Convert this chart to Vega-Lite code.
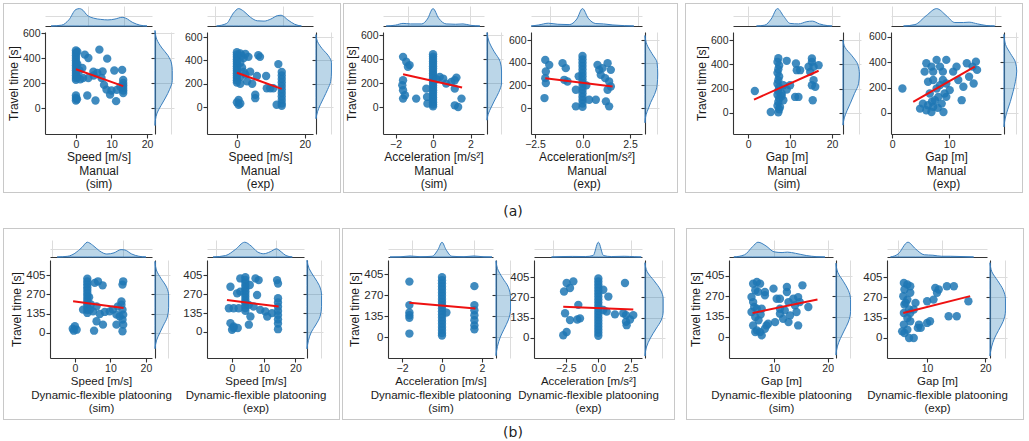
{
"$schema": "https://vega.github.io/schema/vega-lite/v6.json",
"padding": {"left": 3, "top": 3, "right": 0, "bottom": 0},
"background": "white",
"config": {"font": "Liberation Sans", "view": {"stroke": null},
 "axis": {"labelFont": "Liberation Sans", "titleFont": "Liberation Sans", "labelColor": "#2a2a2a", "titleColor": "#1a1a1a", "domainColor": "#333333", "tickColor": "#333333", "domainWidth": 1.1, "tickWidth": 1.1, "tickSize": 4, "labelPadding": 1, "titlePadding": 2, "titleFontWeight": "normal", "titleFontSize": 12, "labelFontSize": 10.5, "labelFlush": false, "labelOverlap": false, "grid": false, "gridColor": "#dcdcdc", "gridWidth": 1, "titleLineHeight": 13.5}},
"datasets": {
"pts": [
{"p":1,"x":0,"y":460},{"p":1,"x":0,"y":440},{"p":1,"x":0,"y":420},{"p":1,"x":0,"y":400},{"p":1,"x":0,"y":380},{"p":1,"x":0,"y":360},{"p":1,"x":0,"y":340},{"p":1,"x":0,"y":320},{"p":1,"x":0,"y":300},{"p":1,"x":0,"y":280},{"p":1,"x":0,"y":260},{"p":1,"x":0,"y":240},{"p":1,"x":0,"y":225},{"p":1,"x":0.4,"y":450},{"p":1,"x":0.4,"y":350},{"p":1,"x":0.4,"y":250},{"p":1,"x":0,"y":100},{"p":1,"x":0,"y":80},{"p":1,"x":0,"y":60},{"p":1,"x":0.3,"y":70},{"p":1,"x":2.5,"y":427},{"p":1,"x":3.5,"y":400},{"p":1,"x":1.8,"y":320},{"p":1,"x":2,"y":240},{"p":1,"x":3.5,"y":240},{"p":1,"x":4.9,"y":290},{"p":1,"x":3.2,"y":100},{"p":1,"x":5.5,"y":60},{"p":1,"x":6.6,"y":467},{"p":1,"x":7.5,"y":293},{"p":1,"x":7.2,"y":240},{"p":1,"x":7.9,"y":185},{"p":1,"x":8.8,"y":395},{"p":1,"x":8.6,"y":147},{"p":1,"x":9.6,"y":107},{"p":1,"x":10.8,"y":300},{"p":1,"x":11.3,"y":55},{"p":1,"x":11.5,"y":145},{"p":1,"x":13,"y":305},{"p":1,"x":13.3,"y":225},{"p":1,"x":13.3,"y":200},{"p":1,"x":13.3,"y":180},{"p":1,"x":13.3,"y":160},{"p":1,"x":13.3,"y":140},{"p":1,"x":13.3,"y":120},{"p":1,"x":12.5,"y":170},{"p":1,"x":10,"y":140},{"p":1,"x":6,"y":280},{"p":1,"x":5,"y":260},{"p":1,"x":1,"y":300},{"p":1,"x":1.2,"y":230},
{"p":2,"x":0,"y":470},{"p":2,"x":0,"y":450},{"p":2,"x":0,"y":430},{"p":2,"x":0,"y":410},{"p":2,"x":0,"y":390},{"p":2,"x":0,"y":370},{"p":2,"x":0,"y":350},{"p":2,"x":0,"y":330},{"p":2,"x":0,"y":310},{"p":2,"x":0,"y":290},{"p":2,"x":0,"y":270},{"p":2,"x":0,"y":250},{"p":2,"x":0,"y":230},{"p":2,"x":0,"y":210},{"p":2,"x":1,"y":460},{"p":2,"x":1.5,"y":440},{"p":2,"x":2,"y":420},{"p":2,"x":2.5,"y":455},{"p":2,"x":1,"y":380},{"p":2,"x":1.5,"y":340},{"p":2,"x":2,"y":300},{"p":2,"x":1,"y":260},{"p":2,"x":2.5,"y":280},{"p":2,"x":1,"y":200},{"p":2,"x":0.5,"y":60},{"p":2,"x":0,"y":40},{"p":2,"x":0.5,"y":20},{"p":2,"x":1,"y":30},{"p":2,"x":3.9,"y":303},{"p":2,"x":5.9,"y":266},{"p":2,"x":5.4,"y":105},{"p":2,"x":5.4,"y":76},{"p":2,"x":3.4,"y":430},{"p":2,"x":6.3,"y":444},{"p":2,"x":6.8,"y":430},{"p":2,"x":8.6,"y":266},{"p":2,"x":8.8,"y":161},{"p":2,"x":10.7,"y":161},{"p":2,"x":9.8,"y":160},{"p":2,"x":12.2,"y":368},{"p":2,"x":13.2,"y":300},{"p":2,"x":13.2,"y":270},{"p":2,"x":13.2,"y":240},{"p":2,"x":13.2,"y":210},{"p":2,"x":13.2,"y":180},{"p":2,"x":13.2,"y":150},{"p":2,"x":13.2,"y":120},{"p":2,"x":13.2,"y":90},{"p":2,"x":13.2,"y":60},{"p":2,"x":13.2,"y":30},{"p":2,"x":13.2,"y":10},{"p":2,"x":11.7,"y":20},{"p":2,"x":4.5,"y":200},{"p":2,"x":3,"y":220},
{"p":3,"x":-1.6,"y":418},{"p":3,"x":-1.43,"y":377},{"p":3,"x":-1.34,"y":335},{"p":3,"x":-1.25,"y":349},{"p":3,"x":-1.6,"y":223},{"p":3,"x":-1.64,"y":181},{"p":3,"x":-1.6,"y":140},{"p":3,"x":-1.6,"y":70},{"p":3,"x":-1.5,"y":98},{"p":3,"x":-0.9,"y":70},{"p":3,"x":0,"y":440},{"p":3,"x":0,"y":420},{"p":3,"x":0,"y":400},{"p":3,"x":0,"y":380},{"p":3,"x":0,"y":360},{"p":3,"x":0,"y":340},{"p":3,"x":0,"y":320},{"p":3,"x":0,"y":300},{"p":3,"x":0,"y":280},{"p":3,"x":0,"y":260},{"p":3,"x":0,"y":240},{"p":3,"x":0,"y":220},{"p":3,"x":0,"y":200},{"p":3,"x":0,"y":180},{"p":3,"x":0,"y":160},{"p":3,"x":0,"y":140},{"p":3,"x":0,"y":120},{"p":3,"x":0,"y":100},{"p":3,"x":0,"y":80},{"p":3,"x":0,"y":60},{"p":3,"x":0,"y":40},{"p":3,"x":0,"y":20},{"p":3,"x":0,"y":5},{"p":3,"x":-0.36,"y":153},{"p":3,"x":-0.32,"y":84},{"p":3,"x":-0.3,"y":28},{"p":3,"x":0.36,"y":251},{"p":3,"x":0.54,"y":237},{"p":3,"x":0.98,"y":209},{"p":3,"x":1.16,"y":223},{"p":3,"x":1.25,"y":245},{"p":3,"x":1.16,"y":153},{"p":3,"x":1.16,"y":14},{"p":3,"x":1.34,"y":0},{"p":3,"x":1.52,"y":70},{"p":3,"x":0.7,"y":195},{"p":3,"x":0.2,"y":230},
{"p":4,"x":-1.96,"y":425},{"p":4,"x":-1.75,"y":381},{"p":4,"x":-1.93,"y":322},{"p":4,"x":-1.96,"y":264},{"p":4,"x":-1.93,"y":220},{"p":4,"x":-2.0,"y":88},{"p":4,"x":-1.05,"y":396},{"p":4,"x":-0.88,"y":352},{"p":4,"x":-0.96,"y":249},{"p":4,"x":-0.79,"y":234},{"p":4,"x":0,"y":460},{"p":4,"x":0,"y":430},{"p":4,"x":0,"y":400},{"p":4,"x":0,"y":370},{"p":4,"x":0,"y":340},{"p":4,"x":0,"y":310},{"p":4,"x":0,"y":280},{"p":4,"x":0,"y":250},{"p":4,"x":0,"y":220},{"p":4,"x":0,"y":190},{"p":4,"x":0,"y":160},{"p":4,"x":0,"y":130},{"p":4,"x":0,"y":100},{"p":4,"x":0,"y":70},{"p":4,"x":0,"y":40},{"p":4,"x":0,"y":10},{"p":4,"x":-0.35,"y":161},{"p":4,"x":0.35,"y":73},{"p":4,"x":-0.35,"y":15},{"p":4,"x":0.7,"y":73},{"p":4,"x":1.23,"y":59},{"p":4,"x":1.4,"y":15},{"p":4,"x":0.79,"y":381},{"p":4,"x":0.88,"y":337},{"p":4,"x":1.05,"y":352},{"p":4,"x":0.96,"y":293},{"p":4,"x":1.32,"y":396},{"p":4,"x":1.49,"y":337},{"p":4,"x":1.19,"y":264},{"p":4,"x":1.4,"y":234},{"p":4,"x":1.32,"y":161},{"p":4,"x":1.49,"y":190},{"p":4,"x":0.2,"y":200},{"p":4,"x":-0.2,"y":280},
{"p":5,"x":1.6,"y":181},{"p":5,"x":7.2,"y":450},{"p":5,"x":7.0,"y":420},{"p":5,"x":7.4,"y":390},{"p":5,"x":7.2,"y":360},{"p":5,"x":7.0,"y":330},{"p":5,"x":7.4,"y":300},{"p":5,"x":7.2,"y":270},{"p":5,"x":7.0,"y":240},{"p":5,"x":7.4,"y":210},{"p":5,"x":7.2,"y":180},{"p":5,"x":7.0,"y":150},{"p":5,"x":7.4,"y":120},{"p":5,"x":7.2,"y":90},{"p":5,"x":7.0,"y":60},{"p":5,"x":7.4,"y":30},{"p":5,"x":7.2,"y":5},{"p":5,"x":5.4,"y":8},{"p":5,"x":7.6,"y":50},{"p":5,"x":8.4,"y":105},{"p":5,"x":9.2,"y":193},{"p":5,"x":9.2,"y":429},{"p":5,"x":11.2,"y":132},{"p":5,"x":11.6,"y":352},{"p":5,"x":11.4,"y":407},{"p":5,"x":12,"y":132},{"p":5,"x":12.4,"y":352},{"p":5,"x":14.4,"y":380},{"p":5,"x":14.8,"y":338},{"p":5,"x":15.2,"y":448},{"p":5,"x":15.6,"y":270},{"p":5,"x":15.2,"y":228},{"p":5,"x":16,"y":215},{"p":5,"x":16.8,"y":393},{"p":5,"x":15.6,"y":380},{"p":5,"x":15.4,"y":105},{"p":5,"x":15.2,"y":420},{"p":5,"x":8.4,"y":228},{"p":5,"x":10,"y":228},{"p":5,"x":8,"y":140},{"p":5,"x":8,"y":160},
{"p":6,"x":1.8,"y":193},{"p":6,"x":4.9,"y":34},{"p":6,"x":5.4,"y":74},{"p":6,"x":6,"y":21},{"p":6,"x":6.3,"y":61},{"p":6,"x":6.9,"y":8},{"p":6,"x":7.2,"y":48},{"p":6,"x":7.5,"y":101},{"p":6,"x":8.1,"y":127},{"p":6,"x":7.8,"y":193},{"p":6,"x":8.4,"y":220},{"p":6,"x":8.9,"y":260},{"p":6,"x":9.2,"y":154},{"p":6,"x":8.7,"y":74},{"p":6,"x":9,"y":8},{"p":6,"x":6.6,"y":154},{"p":6,"x":6.3,"y":246},{"p":6,"x":7.2,"y":326},{"p":6,"x":6.9,"y":366},{"p":6,"x":7.8,"y":419},{"p":6,"x":8.4,"y":366},{"p":6,"x":9.5,"y":419},{"p":6,"x":8.9,"y":326},{"p":6,"x":9.5,"y":233},{"p":6,"x":10.1,"y":180},{"p":6,"x":10.7,"y":326},{"p":6,"x":11.3,"y":366},{"p":6,"x":11.6,"y":260},{"p":6,"x":12.5,"y":207},{"p":6,"x":12.2,"y":101},{"p":6,"x":13.5,"y":286},{"p":6,"x":14.1,"y":366},{"p":6,"x":14.7,"y":405},{"p":6,"x":14.3,"y":233},{"p":6,"x":14.9,"y":340},{"p":6,"x":13.1,"y":392},{"p":6,"x":6,"y":392},{"p":6,"x":5.7,"y":326},{"p":6,"x":7.2,"y":260},{"p":6,"x":9.5,"y":127},{"p":6,"x":7,"y":90},{"p":6,"x":8,"y":40},
{"p":7,"x":0,"y":47},{"p":7,"x":-0.6,"y":30},{"p":7,"x":0.5,"y":23},{"p":7,"x":-0.3,"y":16},{"p":7,"x":3.5,"y":380},{"p":7,"x":3.5,"y":360},{"p":7,"x":3.5,"y":340},{"p":7,"x":3.5,"y":320},{"p":7,"x":3.5,"y":300},{"p":7,"x":3.5,"y":280},{"p":7,"x":3.5,"y":260},{"p":7,"x":3.5,"y":240},{"p":7,"x":3.5,"y":220},{"p":7,"x":3.5,"y":200},{"p":7,"x":3.5,"y":180},{"p":7,"x":3.5,"y":160},{"p":7,"x":3.5,"y":140},{"p":7,"x":2.3,"y":163},{"p":7,"x":4.2,"y":163},{"p":7,"x":5.1,"y":151},{"p":7,"x":6.1,"y":186},{"p":7,"x":5.6,"y":350},{"p":7,"x":6.5,"y":361},{"p":7,"x":7.8,"y":333},{"p":7,"x":7,"y":133},{"p":7,"x":6.1,"y":82},{"p":7,"x":7.9,"y":58},{"p":7,"x":5.4,"y":16},{"p":7,"x":8.4,"y":147},{"p":7,"x":9.8,"y":151},{"p":7,"x":10.7,"y":163},{"p":7,"x":11.7,"y":58},{"p":7,"x":11.7,"y":128},{"p":7,"x":12.1,"y":186},{"p":7,"x":13.1,"y":221},{"p":7,"x":13.4,"y":338},{"p":7,"x":13.6,"y":361},{"p":7,"x":13.4,"y":163},{"p":7,"x":13.6,"y":128},{"p":7,"x":13.4,"y":93},{"p":7,"x":13.6,"y":58},{"p":7,"x":13.4,"y":12},{"p":7,"x":13.1,"y":198},{"p":7,"x":12.6,"y":116},{"p":7,"x":4.5,"y":200},{"p":7,"x":4,"y":250},
{"p":8,"x":-0.5,"y":322},{"p":8,"x":-1,"y":169},{"p":8,"x":0.5,"y":169},{"p":8,"x":-0.5,"y":63},{"p":8,"x":0.5,"y":40},{"p":8,"x":0,"y":16},{"p":8,"x":0.5,"y":28},{"p":8,"x":1.8,"y":28},{"p":8,"x":2.1,"y":169},{"p":8,"x":2.6,"y":287},{"p":8,"x":1.6,"y":275},{"p":8,"x":2.6,"y":381},{"p":8,"x":4.2,"y":390},{"p":8,"x":4.2,"y":370},{"p":8,"x":4.2,"y":350},{"p":8,"x":4.2,"y":330},{"p":8,"x":4.2,"y":310},{"p":8,"x":4.2,"y":290},{"p":8,"x":4.2,"y":270},{"p":8,"x":4.2,"y":250},{"p":8,"x":4.2,"y":230},{"p":8,"x":4.2,"y":210},{"p":8,"x":4.2,"y":190},{"p":8,"x":4.2,"y":170},{"p":8,"x":4.2,"y":150},{"p":8,"x":5.6,"y":334},{"p":8,"x":5.3,"y":193},{"p":8,"x":5.8,"y":110},{"p":8,"x":5.3,"y":52},{"p":8,"x":7.4,"y":381},{"p":8,"x":8.4,"y":369},{"p":8,"x":7.9,"y":263},{"p":8,"x":6.8,"y":181},{"p":8,"x":8.9,"y":157},{"p":8,"x":10.5,"y":146},{"p":8,"x":11.1,"y":110},{"p":8,"x":12.6,"y":134},{"p":8,"x":14.2,"y":369},{"p":8,"x":14.5,"y":345},{"p":8,"x":14.5,"y":240},{"p":8,"x":14.5,"y":210},{"p":8,"x":14.5,"y":180},{"p":8,"x":14.5,"y":150},{"p":8,"x":14.5,"y":120},{"p":8,"x":14.5,"y":90},{"p":8,"x":14.5,"y":60},{"p":8,"x":14.5,"y":20},
{"p":9,"x":-1.63,"y":356},{"p":9,"x":-1.63,"y":205},{"p":9,"x":-1.63,"y":157},{"p":9,"x":-1.63,"y":140},{"p":9,"x":-1.63,"y":123},{"p":9,"x":-1.63,"y":22},{"p":9,"x":0,"y":385},{"p":9,"x":0,"y":365},{"p":9,"x":0,"y":345},{"p":9,"x":0,"y":325},{"p":9,"x":0,"y":305},{"p":9,"x":0,"y":285},{"p":9,"x":0,"y":265},{"p":9,"x":0,"y":245},{"p":9,"x":0,"y":225},{"p":9,"x":0,"y":205},{"p":9,"x":0,"y":185},{"p":9,"x":0,"y":165},{"p":9,"x":0,"y":145},{"p":9,"x":0,"y":125},{"p":9,"x":0,"y":105},{"p":9,"x":0,"y":85},{"p":9,"x":0,"y":65},{"p":9,"x":0,"y":45},{"p":9,"x":0,"y":25},{"p":9,"x":0,"y":10},{"p":9,"x":0.22,"y":157},{"p":9,"x":1.62,"y":327},{"p":9,"x":1.62,"y":205},{"p":9,"x":1.62,"y":172},{"p":9,"x":1.62,"y":140},{"p":9,"x":1.62,"y":108},{"p":9,"x":1.62,"y":75},{"p":9,"x":1.62,"y":50},
{"p":10,"x":-2.56,"y":164},{"p":10,"x":-2.64,"y":309},{"p":10,"x":-2.44,"y":365},{"p":10,"x":-2.18,"y":332},{"p":10,"x":-1.92,"y":376},{"p":10,"x":-2.7,"y":18},{"p":10,"x":-2.44,"y":40},{"p":10,"x":-2.18,"y":119},{"p":10,"x":-1.54,"y":220},{"p":10,"x":-1.41,"y":130},{"p":10,"x":-1.62,"y":123},{"p":10,"x":0,"y":395},{"p":10,"x":0,"y":375},{"p":10,"x":0,"y":355},{"p":10,"x":0,"y":335},{"p":10,"x":0,"y":315},{"p":10,"x":0,"y":295},{"p":10,"x":0,"y":275},{"p":10,"x":0,"y":255},{"p":10,"x":0,"y":235},{"p":10,"x":0,"y":215},{"p":10,"x":0,"y":195},{"p":10,"x":0,"y":175},{"p":10,"x":0,"y":155},{"p":10,"x":0,"y":135},{"p":10,"x":0,"y":115},{"p":10,"x":0,"y":95},{"p":10,"x":0,"y":75},{"p":10,"x":0,"y":55},{"p":10,"x":0,"y":35},{"p":10,"x":0,"y":15},{"p":10,"x":0.38,"y":320},{"p":10,"x":0.77,"y":275},{"p":10,"x":0.64,"y":175},{"p":10,"x":0.38,"y":186},{"p":10,"x":1.28,"y":157},{"p":10,"x":1.92,"y":164},{"p":10,"x":2.13,"y":152},{"p":10,"x":2.13,"y":108},{"p":10,"x":2.18,"y":85},{"p":10,"x":2.44,"y":123},{"p":10,"x":2.69,"y":152},{"p":10,"x":2.05,"y":365},
{"p":11,"x":6.1,"y":354},{"p":11,"x":6.8,"y":365},{"p":11,"x":7.4,"y":354},{"p":11,"x":6.5,"y":310},{"p":11,"x":5.8,"y":266},{"p":11,"x":6.1,"y":232},{"p":11,"x":6.8,"y":188},{"p":11,"x":5.8,"y":166},{"p":11,"x":6.5,"y":133},{"p":11,"x":7.1,"y":111},{"p":11,"x":6.1,"y":77},{"p":11,"x":6.8,"y":44},{"p":11,"x":7.4,"y":33},{"p":11,"x":7.7,"y":11},{"p":11,"x":6.5,"y":33},{"p":11,"x":8.3,"y":55},{"p":11,"x":8.6,"y":77},{"p":11,"x":7.7,"y":188},{"p":11,"x":8.3,"y":299},{"p":11,"x":8.3,"y":277},{"p":11,"x":8.9,"y":88},{"p":11,"x":9.9,"y":321},{"p":11,"x":10.5,"y":254},{"p":11,"x":11.1,"y":254},{"p":11,"x":11.1,"y":155},{"p":11,"x":11.7,"y":121},{"p":11,"x":12,"y":177},{"p":11,"x":12.4,"y":332},{"p":11,"x":12.4,"y":299},{"p":11,"x":12.7,"y":232},{"p":11,"x":13,"y":144},{"p":11,"x":12.7,"y":99},{"p":11,"x":13.6,"y":254},{"p":11,"x":13.9,"y":210},{"p":11,"x":14.5,"y":265},{"p":11,"x":14.2,"y":166},{"p":11,"x":14.5,"y":77},{"p":11,"x":15.3,"y":343},{"p":11,"x":14.8,"y":232},{"p":11,"x":16.4,"y":199},{"p":11,"x":11.1,"y":188},{"p":11,"x":10.2,"y":99},{"p":11,"x":7,"y":300},{"p":11,"x":6.3,"y":200},{"p":11,"x":7.5,"y":150},
{"p":12,"x":6,"y":366},{"p":12,"x":6.6,"y":355},{"p":12,"x":7.1,"y":344},{"p":12,"x":6.1,"y":322},{"p":12,"x":5.9,"y":277},{"p":12,"x":6.6,"y":255},{"p":12,"x":6.1,"y":222},{"p":12,"x":6.9,"y":189},{"p":12,"x":6,"y":166},{"p":12,"x":6.6,"y":133},{"p":12,"x":7.1,"y":111},{"p":12,"x":6,"y":89},{"p":12,"x":6.6,"y":55},{"p":12,"x":6.1,"y":33},{"p":12,"x":6.9,"y":0},{"p":12,"x":7.1,"y":300},{"p":12,"x":5.7,"y":44},{"p":12,"x":7.7,"y":0},{"p":12,"x":8,"y":233},{"p":12,"x":8.6,"y":89},{"p":12,"x":8.9,"y":67},{"p":12,"x":10,"y":100},{"p":12,"x":10.5,"y":111},{"p":12,"x":10,"y":244},{"p":12,"x":11.1,"y":255},{"p":12,"x":11.4,"y":333},{"p":12,"x":11.7,"y":300},{"p":12,"x":12,"y":322},{"p":12,"x":13.4,"y":344},{"p":12,"x":14.6,"y":344},{"p":12,"x":13.7,"y":144},{"p":12,"x":15.1,"y":144},{"p":12,"x":17.1,"y":244},{"p":12,"x":7.7,"y":189},{"p":12,"x":8.4,"y":67},{"p":12,"x":6.3,"y":233},{"p":12,"x":7.1,"y":166}
],
"reg": [
{"p":1,"x":0,"y":310},{"p":1,"x":13.3,"y":175},
{"p":2,"x":0,"y":294},{"p":2,"x":13.2,"y":156},
{"p":3,"x":-1.6,"y":273},{"p":3,"x":1.55,"y":162},
{"p":4,"x":-1.96,"y":262},{"p":4,"x":1.58,"y":190},
{"p":5,"x":1.4,"y":110},{"p":5,"x":16.8,"y":347},
{"p":6,"x":3.7,"y":87},{"p":6,"x":14.5,"y":366},
{"p":7,"x":-0.5,"y":221},{"p":7,"x":13.7,"y":175},
{"p":8,"x":-1.6,"y":228},{"p":8,"x":14.7,"y":181},
{"p":9,"x":-1.63,"y":220},{"p":9,"x":1.67,"y":183},
{"p":10,"x":-2.7,"y":208},{"p":10,"x":2.69,"y":190},
{"p":11,"x":6,"y":159},{"p":11,"x":18.1,"y":249},
{"p":12,"x":5.9,"y":166},{"p":12,"x":17.4,"y":278}
],
"tm": [
{"p":1,"v":-7,"d":0},{"p":1,"v":-4,"d":0.05},{"p":1,"v":-2,"d":0.35},{"p":1,"v":0,"d":0.95},{"p":1,"v":1,"d":1.0},{"p":1,"v":2,"d":0.9},{"p":1,"v":3,"d":0.65},{"p":1,"v":5,"d":0.45},{"p":1,"v":7,"d":0.38},{"p":1,"v":9,"d":0.35},{"p":1,"v":11,"d":0.4},{"p":1,"v":13,"d":0.5},{"p":1,"v":14,"d":0.45},{"p":1,"v":16,"d":0.2},{"p":1,"v":18,"d":0.05},{"p":1,"v":20,"d":0},
{"p":2,"v":-6,"d":0},{"p":2,"v":-3,"d":0.15},{"p":2,"v":-1,"d":0.75},{"p":2,"v":0.5,"d":1.0},{"p":2,"v":2,"d":0.85},{"p":2,"v":4,"d":0.5},{"p":2,"v":6,"d":0.3},{"p":2,"v":8,"d":0.28},{"p":2,"v":10,"d":0.4},{"p":2,"v":12,"d":0.6},{"p":2,"v":13,"d":0.62},{"p":2,"v":15,"d":0.35},{"p":2,"v":17,"d":0.1},{"p":2,"v":19,"d":0},
{"p":3,"v":-2.5,"d":0},{"p":3,"v":-2,"d":0.05},{"p":3,"v":-1.6,"d":0.15},{"p":3,"v":-1.2,"d":0.12},{"p":3,"v":-0.6,"d":0.12},{"p":3,"v":-0.3,"d":0.4},{"p":3,"v":0,"d":1.0},{"p":3,"v":0.3,"d":0.45},{"p":3,"v":0.7,"d":0.12},{"p":3,"v":1.2,"d":0.1},{"p":3,"v":1.6,"d":0.12},{"p":3,"v":2,"d":0.04},{"p":3,"v":2.5,"d":0},
{"p":4,"v":-2.7,"d":0},{"p":4,"v":-2.3,"d":0.06},{"p":4,"v":-1.8,"d":0.16},{"p":4,"v":-1.3,"d":0.1},{"p":4,"v":-0.7,"d":0.08},{"p":4,"v":-0.3,"d":0.4},{"p":4,"v":0,"d":1.0},{"p":4,"v":0.3,"d":0.45},{"p":4,"v":0.7,"d":0.14},{"p":4,"v":1.1,"d":0.12},{"p":4,"v":1.6,"d":0.06},{"p":4,"v":2.2,"d":0.02},{"p":4,"v":2.7,"d":0},
{"p":5,"v":2,"d":0},{"p":5,"v":4,"d":0.05},{"p":5,"v":5.5,"d":0.4},{"p":5,"v":7,"d":1.0},{"p":5,"v":8.5,"d":0.55},{"p":5,"v":10,"d":0.15},{"p":5,"v":12,"d":0.12},{"p":5,"v":14,"d":0.25},{"p":5,"v":15.3,"d":0.28},{"p":5,"v":17,"d":0.12},{"p":5,"v":19,"d":0.02},{"p":5,"v":20,"d":0},
{"p":6,"v":2,"d":0},{"p":6,"v":4,"d":0.08},{"p":6,"v":6,"d":0.6},{"p":6,"v":7.8,"d":1.0},{"p":6,"v":9.5,"d":0.6},{"p":6,"v":11,"d":0.2},{"p":6,"v":12.5,"d":0.2},{"p":6,"v":13.5,"d":0.22},{"p":6,"v":15,"d":0.12},{"p":6,"v":16.5,"d":0.03},{"p":6,"v":18,"d":0},
{"p":7,"v":-5,"d":0},{"p":7,"v":-2,"d":0.05},{"p":7,"v":0,"d":0.25},{"p":7,"v":2,"d":0.65},{"p":7,"v":3.5,"d":1.0},{"p":7,"v":5,"d":0.8},{"p":7,"v":7,"d":0.4},{"p":7,"v":9,"d":0.2},{"p":7,"v":11,"d":0.28},{"p":7,"v":13,"d":0.5},{"p":7,"v":14,"d":0.48},{"p":7,"v":16,"d":0.2},{"p":7,"v":18,"d":0.05},{"p":7,"v":20,"d":0},
{"p":8,"v":-6,"d":0},{"p":8,"v":-2,"d":0.1},{"p":8,"v":1,"d":0.5},{"p":8,"v":4,"d":1.0},{"p":8,"v":6,"d":0.75},{"p":8,"v":8,"d":0.35},{"p":8,"v":10,"d":0.22},{"p":8,"v":12,"d":0.35},{"p":8,"v":14,"d":0.55},{"p":8,"v":15.5,"d":0.35},{"p":8,"v":17,"d":0.1},{"p":8,"v":19,"d":0},
{"p":9,"v":-2.6,"d":0},{"p":9,"v":-2.1,"d":0.01},{"p":9,"v":-1.6,"d":0.07},{"p":9,"v":-1.1,"d":0.02},{"p":9,"v":-0.5,"d":0.05},{"p":9,"v":-0.2,"d":0.5},{"p":9,"v":0,"d":1.0},{"p":9,"v":0.2,"d":0.5},{"p":9,"v":0.5,"d":0.05},{"p":9,"v":1.1,"d":0.02},{"p":9,"v":1.6,"d":0.07},{"p":9,"v":2.1,"d":0.01},{"p":9,"v":2.5,"d":0},
{"p":10,"v":-3.6,"d":0},{"p":10,"v":-2.8,"d":0.03},{"p":10,"v":-2,"d":0.04},{"p":10,"v":-1,"d":0.03},{"p":10,"v":-0.4,"d":0.1},{"p":10,"v":0,"d":1.0},{"p":10,"v":0.4,"d":0.1},{"p":10,"v":1,"d":0.03},{"p":10,"v":2,"d":0.05},{"p":10,"v":2.8,"d":0.02},{"p":10,"v":3.3,"d":0},
{"p":11,"v":2.5,"d":0},{"p":11,"v":4.5,"d":0.15},{"p":11,"v":6,"d":0.7},{"p":11,"v":7,"d":1.0},{"p":11,"v":8.5,"d":0.75},{"p":11,"v":10,"d":0.35},{"p":11,"v":11.5,"d":0.3},{"p":11,"v":12.5,"d":0.33},{"p":11,"v":14,"d":0.25},{"p":11,"v":16,"d":0.1},{"p":11,"v":18,"d":0.02},{"p":11,"v":19.5,"d":0},
{"p":12,"v":3.7,"d":0},{"p":12,"v":5,"d":0.2},{"p":12,"v":6.7,"d":1.0},{"p":12,"v":8,"d":0.55},{"p":12,"v":9.5,"d":0.15},{"p":12,"v":11,"d":0.12},{"p":12,"v":12.5,"d":0.05},{"p":12,"v":14,"d":0.05},{"p":12,"v":16,"d":0.03},{"p":12,"v":18,"d":0}
],
"rm": [
{"p":1,"v":-140,"d":0},{"p":1,"v":-100,"d":0.02},{"p":1,"v":-40,"d":0.12},{"p":1,"v":20,"d":0.35},{"p":1,"v":80,"d":0.6},{"p":1,"v":150,"d":0.85},{"p":1,"v":220,"d":1.0},{"p":1,"v":300,"d":1.0},{"p":1,"v":360,"d":0.95},{"p":1,"v":420,"d":0.75},{"p":1,"v":480,"d":0.4},{"p":1,"v":550,"d":0.1},{"p":1,"v":620,"d":0},
{"p":2,"v":-100,"d":0},{"p":2,"v":-40,"d":0.1},{"p":2,"v":20,"d":0.28},{"p":2,"v":80,"d":0.5},{"p":2,"v":150,"d":0.75},{"p":2,"v":220,"d":0.95},{"p":2,"v":300,"d":1.0},{"p":2,"v":380,"d":1.0},{"p":2,"v":440,"d":0.8},{"p":2,"v":500,"d":0.4},{"p":2,"v":560,"d":0.1},{"p":2,"v":620,"d":0},
{"p":3,"v":-110,"d":0},{"p":3,"v":-60,"d":0.08},{"p":3,"v":0,"d":0.3},{"p":3,"v":50,"d":0.5},{"p":3,"v":120,"d":0.8},{"p":3,"v":200,"d":1.0},{"p":3,"v":300,"d":1.0},{"p":3,"v":380,"d":0.9},{"p":3,"v":460,"d":0.5},{"p":3,"v":540,"d":0.15},{"p":3,"v":620,"d":0},
{"p":4,"v":-130,"d":0},{"p":4,"v":-60,"d":0.08},{"p":4,"v":0,"d":0.28},{"p":4,"v":50,"d":0.45},{"p":4,"v":120,"d":0.75},{"p":4,"v":200,"d":0.95},{"p":4,"v":300,"d":1.0},{"p":4,"v":400,"d":0.95},{"p":4,"v":480,"d":0.55},{"p":4,"v":560,"d":0.15},{"p":4,"v":640,"d":0},
{"p":5,"v":-100,"d":0},{"p":5,"v":-40,"d":0.08},{"p":5,"v":20,"d":0.25},{"p":5,"v":80,"d":0.45},{"p":5,"v":160,"d":0.7},{"p":5,"v":240,"d":0.95},{"p":5,"v":320,"d":1.0},{"p":5,"v":400,"d":0.9},{"p":5,"v":470,"d":0.55},{"p":5,"v":540,"d":0.12},{"p":5,"v":600,"d":0},
{"p":6,"v":-110,"d":0},{"p":6,"v":-40,"d":0.1},{"p":6,"v":30,"d":0.3},{"p":6,"v":90,"d":0.5},{"p":6,"v":170,"d":0.72},{"p":6,"v":250,"d":0.9},{"p":6,"v":330,"d":1.0},{"p":6,"v":400,"d":0.9},{"p":6,"v":470,"d":0.5},{"p":6,"v":540,"d":0.12},{"p":6,"v":620,"d":0},
{"p":7,"v":-110,"d":0},{"p":7,"v":-50,"d":0.12},{"p":7,"v":0,"d":0.35},{"p":7,"v":50,"d":0.6},{"p":7,"v":110,"d":0.9},{"p":7,"v":180,"d":1.0},{"p":7,"v":260,"d":1.0},{"p":7,"v":320,"d":0.85},{"p":7,"v":380,"d":0.45},{"p":7,"v":440,"d":0.1},{"p":7,"v":500,"d":0},
{"p":8,"v":-120,"d":0},{"p":8,"v":-60,"d":0.1},{"p":8,"v":0,"d":0.3},{"p":8,"v":50,"d":0.6},{"p":8,"v":110,"d":0.9},{"p":8,"v":180,"d":1.0},{"p":8,"v":260,"d":1.0},{"p":8,"v":330,"d":0.85},{"p":8,"v":390,"d":0.5},{"p":8,"v":450,"d":0.15},{"p":8,"v":510,"d":0},
{"p":9,"v":-120,"d":0},{"p":9,"v":-60,"d":0.1},{"p":9,"v":0,"d":0.3},{"p":9,"v":50,"d":0.55},{"p":9,"v":110,"d":0.85},{"p":9,"v":180,"d":1.0},{"p":9,"v":250,"d":1.0},{"p":9,"v":320,"d":0.85},{"p":9,"v":380,"d":0.45},{"p":9,"v":440,"d":0.1},{"p":9,"v":490,"d":0},
{"p":10,"v":-120,"d":0},{"p":10,"v":-60,"d":0.08},{"p":10,"v":0,"d":0.3},{"p":10,"v":60,"d":0.6},{"p":10,"v":120,"d":0.9},{"p":10,"v":180,"d":1.0},{"p":10,"v":260,"d":1.0},{"p":10,"v":320,"d":0.85},{"p":10,"v":380,"d":0.5},{"p":10,"v":440,"d":0.12},{"p":10,"v":500,"d":0},
{"p":11,"v":-120,"d":0},{"p":11,"v":-60,"d":0.1},{"p":11,"v":-10,"d":0.3},{"p":11,"v":40,"d":0.55},{"p":11,"v":100,"d":0.85},{"p":11,"v":170,"d":1.0},{"p":11,"v":250,"d":1.0},{"p":11,"v":310,"d":0.85},{"p":11,"v":370,"d":0.5},{"p":11,"v":430,"d":0.12},{"p":11,"v":490,"d":0},
{"p":12,"v":-120,"d":0},{"p":12,"v":-60,"d":0.1},{"p":12,"v":0,"d":0.3},{"p":12,"v":50,"d":0.55},{"p":12,"v":110,"d":0.85},{"p":12,"v":180,"d":1.0},{"p":12,"v":260,"d":1.0},{"p":12,"v":320,"d":0.85},{"p":12,"v":380,"d":0.5},{"p":12,"v":440,"d":0.12},{"p":12,"v":500,"d":0}
]
},
"spacing": 0,
"vconcat": [
{"spacing": 0, "hconcat": [
 {"spacing": 0, "vconcat": [
  {"width": 338, "height": 1, "data": {"values": [{}]}, "mark": {"type": "rect", "color": "#c8c8c8"}, "encoding": {}},
  {"spacing": 0, "hconcat": [
   {"width": 1, "height": 188, "data": {"values": [{}]}, "mark": {"type": "rect", "color": "#c8c8c8"}, "encoding": {}},
   {"spacing": 0, "vconcat": [
    {"width": 336, "height": 2, "data": {"values": [{}]}, "mark": {"type": "rect", "opacity": 0}, "encoding": {}},
    {"columns": 7, "align": "each", "bounds": "flush", "spacing": {"row": 6, "column": 3}, "concat": [
     {"width": 38, "height": 1, "data": {"values": [{}]}, "mark": {"type": "rect", "opacity": 0}, "encoding": {}},
     {"width": 107, "height": 20, "data": {"name": "tm"}, "transform": [{"filter": "datum.p==1"}], "mark": {"type": "area", "interpolate": "monotone", "fill": "#1f77b4", "fillOpacity": 0.3, "stroke": "#3a7fbf", "strokeWidth": 1},
      "encoding": {"x": {"field": "v", "type": "quantitative", "scale": {"domain": [-8.7, 21.4], "nice": false, "zero": false}, "axis": {"values": [3.4, 13.6], "labels": false, "ticks": false, "title": null, "grid": true}},
                   "y": {"field": "d", "type": "quantitative", "scale": {"domain": [0, 1.15], "nice": false}, "axis": {"values": [0.55], "labels": false, "ticks": false, "domain": false, "title": null, "grid": true}}}},
     {"width": 19, "height": 1, "data": {"values": [{}]}, "mark": {"type": "rect", "opacity": 0}, "encoding": {}},
     {"width": 27, "height": 1, "data": {"values": [{}]}, "mark": {"type": "rect", "opacity": 0}, "encoding": {}},
     {"width": 106, "height": 20, "data": {"name": "tm"}, "transform": [{"filter": "datum.p==2"}], "mark": {"type": "area", "interpolate": "monotone", "fill": "#1f77b4", "fillOpacity": 0.3, "stroke": "#3a7fbf", "strokeWidth": 1},
      "encoding": {"x": {"field": "v", "type": "quantitative", "scale": {"domain": [-8.8, 22.4], "nice": false, "zero": false}, "axis": {"values": [-6.4, 13.6], "labels": false, "ticks": false, "title": null, "grid": true}},
                   "y": {"field": "d", "type": "quantitative", "scale": {"domain": [0, 1.15], "nice": false}, "axis": {"values": [0.55], "labels": false, "ticks": false, "domain": false, "title": null, "grid": true}}}},
     {"width": 17, "height": 1, "data": {"values": [{}]}, "mark": {"type": "rect", "opacity": 0}, "encoding": {}},
     {"width": 4, "height": 1, "data": {"values": [{}]}, "mark": {"type": "rect", "opacity": 0}, "encoding": {}},
     {"width": 38, "height": 1, "data": {"values": [{}]}, "mark": {"type": "rect", "opacity": 0}, "encoding": {}},
     {"width": 107, "height": 102,
      "encoding": {"x": {"field": "x", "type": "quantitative", "scale": {"domain": [-8.7, 21.4], "nice": false, "zero": false}, "axis": {"values": [0, 10, 20], "title": ["Speed [m/s]", "Manual", "(sim)"]}},
                   "y": {"field": "y", "type": "quantitative", "scale": {"domain": [-208, 608], "nice": false, "zero": false}, "axis": {"values": [0, 200, 400, 600], "title": "Travel time [s]"}}},
      "layer": [
       {"data": {"name": "pts"}, "transform": [{"filter": "datum.p==1"}], "mark": {"type": "circle", "size": 70, "color": "#1f77b4", "opacity": 0.85}},
       {"data": {"name": "reg"}, "transform": [{"filter": "datum.p==1"}], "mark": {"type": "line", "color": "#ee1111", "strokeWidth": 2}}]},
     {"width": 19, "height": 102, "data": {"name": "rm"}, "transform": [{"filter": "datum.p==1"}], "mark": {"type": "area", "orient": "horizontal", "interpolate": "monotone", "fill": "#1f77b4", "fillOpacity": 0.3, "stroke": "#3a7fbf", "strokeWidth": 1},
      "encoding": {"y": {"field": "v", "type": "quantitative", "scale": {"domain": [-208, 608], "nice": false, "zero": false}, "axis": {"values": [0, 200, 400, 600], "labels": false, "title": null, "grid": true}},
                   "x": {"field": "d", "type": "quantitative", "scale": {"domain": [0, 1.1], "nice": false}, "axis": {"values": [0.95], "labels": false, "ticks": false, "domain": false, "title": null, "grid": true}}}},
     {"width": 27, "height": 1, "data": {"values": [{}]}, "mark": {"type": "rect", "opacity": 0}, "encoding": {}},
     {"width": 106, "height": 102,
      "encoding": {"x": {"field": "x", "type": "quantitative", "scale": {"domain": [-8.8, 22.4], "nice": false, "zero": false}, "axis": {"values": [0, 20], "title": ["Speed [m/s]", "Manual", "(exp)"]}},
                   "y": {"field": "y", "type": "quantitative", "scale": {"domain": [-231, 643], "nice": false, "zero": false}, "axis": {"values": [0, 200, 400, 600], "title": null}}},
      "layer": [
       {"data": {"name": "pts"}, "transform": [{"filter": "datum.p==2"}], "mark": {"type": "circle", "size": 70, "color": "#1f77b4", "opacity": 0.85}},
       {"data": {"name": "reg"}, "transform": [{"filter": "datum.p==2"}], "mark": {"type": "line", "color": "#ee1111", "strokeWidth": 2}}]},
     {"width": 17, "height": 102, "data": {"name": "rm"}, "transform": [{"filter": "datum.p==2"}], "mark": {"type": "area", "orient": "horizontal", "interpolate": "monotone", "fill": "#1f77b4", "fillOpacity": 0.3, "stroke": "#3a7fbf", "strokeWidth": 1},
      "encoding": {"y": {"field": "v", "type": "quantitative", "scale": {"domain": [-231, 643], "nice": false, "zero": false}, "axis": {"values": [0, 200, 400, 600], "labels": false, "title": null, "grid": true}},
                   "x": {"field": "d", "type": "quantitative", "scale": {"domain": [0, 1.1], "nice": false}, "axis": {"values": [0.95], "labels": false, "ticks": false, "domain": false, "title": null, "grid": true}}}},
     {"width": 4, "height": 1, "data": {"values": [{}]}, "mark": {"type": "rect", "opacity": 0}, "encoding": {}}
    ]}
   ]},
   {"width": 1, "height": 188, "data": {"values": [{}]}, "mark": {"type": "rect", "color": "#c8c8c8"}, "encoding": {}}
  ]},
  {"width": 338, "height": 1, "data": {"values": [{}]}, "mark": {"type": "rect", "color": "#c8c8c8"}, "encoding": {}}
 ]},
 {"width": 2, "height": 1, "data": {"values": [{}]}, "mark": {"type": "rect", "opacity": 0}, "encoding": {}},
 {"spacing": 0, "vconcat": [
  {"width": 335, "height": 1, "data": {"values": [{}]}, "mark": {"type": "rect", "color": "#c8c8c8"}, "encoding": {}},
  {"spacing": 0, "hconcat": [
   {"width": 1, "height": 188, "data": {"values": [{}]}, "mark": {"type": "rect", "color": "#c8c8c8"}, "encoding": {}},
   {"spacing": 0, "vconcat": [
    {"width": 333, "height": 2, "data": {"values": [{}]}, "mark": {"type": "rect", "opacity": 0}, "encoding": {}},
    {"columns": 7, "align": "each", "bounds": "flush", "spacing": {"row": 6, "column": 3}, "concat": [
     {"width": 36, "height": 1, "data": {"values": [{}]}, "mark": {"type": "rect", "opacity": 0}, "encoding": {}},
     {"width": 101, "height": 20, "data": {"name": "tm"}, "transform": [{"filter": "datum.p==3"}], "mark": {"type": "area", "interpolate": "monotone", "fill": "#1f77b4", "fillOpacity": 0.3, "stroke": "#3a7fbf", "strokeWidth": 1},
      "encoding": {"x": {"field": "v", "type": "quantitative", "scale": {"domain": [-2.67, 2.72], "nice": false, "zero": false}, "axis": {"values": [-1.34, 1.97], "labels": false, "ticks": false, "title": null, "grid": true}},
                   "y": {"field": "d", "type": "quantitative", "scale": {"domain": [0, 1.15], "nice": false}, "axis": {"values": [0.55], "labels": false, "ticks": false, "domain": false, "title": null, "grid": true}}}},
     {"width": 16, "height": 1, "data": {"values": [{}]}, "mark": {"type": "rect", "opacity": 0}, "encoding": {}},
     {"width": 22, "height": 1, "data": {"values": [{}]}, "mark": {"type": "rect", "opacity": 0}, "encoding": {}},
     {"width": 111, "height": 20, "data": {"name": "tm"}, "transform": [{"filter": "datum.p==4"}], "mark": {"type": "area", "interpolate": "monotone", "fill": "#1f77b4", "fillOpacity": 0.3, "stroke": "#3a7fbf", "strokeWidth": 1},
      "encoding": {"x": {"field": "v", "type": "quantitative", "scale": {"domain": [-2.71, 3.13], "nice": false, "zero": false}, "axis": {"values": [-1.7, 2.9], "labels": false, "ticks": false, "title": null, "grid": true}},
                   "y": {"field": "d", "type": "quantitative", "scale": {"domain": [0, 1.15], "nice": false}, "axis": {"values": [0.55], "labels": false, "ticks": false, "domain": false, "title": null, "grid": true}}}},
     {"width": 14, "height": 1, "data": {"values": [{}]}, "mark": {"type": "rect", "opacity": 0}, "encoding": {}},
     {"width": 15, "height": 1, "data": {"values": [{}]}, "mark": {"type": "rect", "opacity": 0}, "encoding": {}},
     {"width": 36, "height": 1, "data": {"values": [{}]}, "mark": {"type": "rect", "opacity": 0}, "encoding": {}},
     {"width": 101, "height": 102,
      "encoding": {"x": {"field": "x", "type": "quantitative", "scale": {"domain": [-2.67, 2.72], "nice": false, "zero": false}, "axis": {"values": [-2, 0, 2], "title": ["Acceleration [m/s²]", "Manual", "(sim)"]}},
                   "y": {"field": "y", "type": "quantitative", "scale": {"domain": [-225, 625], "nice": false, "zero": false}, "axis": {"values": [0, 200, 400, 600], "title": "Travel time [s]"}}},
      "layer": [
       {"data": {"name": "pts"}, "transform": [{"filter": "datum.p==3"}], "mark": {"type": "circle", "size": 70, "color": "#1f77b4", "opacity": 0.85}},
       {"data": {"name": "reg"}, "transform": [{"filter": "datum.p==3"}], "mark": {"type": "line", "color": "#ee1111", "strokeWidth": 2}}]},
     {"width": 16, "height": 102, "data": {"name": "rm"}, "transform": [{"filter": "datum.p==3"}], "mark": {"type": "area", "orient": "horizontal", "interpolate": "monotone", "fill": "#1f77b4", "fillOpacity": 0.3, "stroke": "#3a7fbf", "strokeWidth": 1},
      "encoding": {"y": {"field": "v", "type": "quantitative", "scale": {"domain": [-225, 625], "nice": false, "zero": false}, "axis": {"values": [0, 200, 400, 600], "labels": false, "title": null, "grid": true}},
                   "x": {"field": "d", "type": "quantitative", "scale": {"domain": [0, 1.1], "nice": false}, "axis": {"values": [0.95], "labels": false, "ticks": false, "domain": false, "title": null, "grid": true}}}},
     {"width": 22, "height": 1, "data": {"values": [{}]}, "mark": {"type": "rect", "opacity": 0}, "encoding": {}},
     {"width": 111, "height": 102,
      "encoding": {"x": {"field": "x", "type": "quantitative", "scale": {"domain": [-2.71, 3.13], "nice": false, "zero": false}, "axis": {"values": [-2.5, 0, 2.5], "format": ".1f", "title": ["Acceleration[m/s²]", "Manual", "(exp)"]}},
                   "y": {"field": "y", "type": "quantitative", "scale": {"domain": [-229, 671], "nice": false, "zero": false}, "axis": {"values": [0, 200, 400, 600], "title": null}}},
      "layer": [
       {"data": {"name": "pts"}, "transform": [{"filter": "datum.p==4"}], "mark": {"type": "circle", "size": 70, "color": "#1f77b4", "opacity": 0.85}},
       {"data": {"name": "reg"}, "transform": [{"filter": "datum.p==4"}], "mark": {"type": "line", "color": "#ee1111", "strokeWidth": 2}}]},
     {"width": 14, "height": 102, "data": {"name": "rm"}, "transform": [{"filter": "datum.p==4"}], "mark": {"type": "area", "orient": "horizontal", "interpolate": "monotone", "fill": "#1f77b4", "fillOpacity": 0.3, "stroke": "#3a7fbf", "strokeWidth": 1},
      "encoding": {"y": {"field": "v", "type": "quantitative", "scale": {"domain": [-229, 671], "nice": false, "zero": false}, "axis": {"values": [0, 200, 400, 600], "labels": false, "title": null, "grid": true}},
                   "x": {"field": "d", "type": "quantitative", "scale": {"domain": [0, 1.1], "nice": false}, "axis": {"values": [0.95], "labels": false, "ticks": false, "domain": false, "title": null, "grid": true}}}},
     {"width": 15, "height": 1, "data": {"values": [{}]}, "mark": {"type": "rect", "opacity": 0}, "encoding": {}}
    ]}
   ]},
   {"width": 1, "height": 188, "data": {"values": [{}]}, "mark": {"type": "rect", "color": "#c8c8c8"}, "encoding": {}}
  ]},
  {"width": 335, "height": 1, "data": {"values": [{}]}, "mark": {"type": "rect", "color": "#c8c8c8"}, "encoding": {}}
 ]},
 {"width": 7, "height": 1, "data": {"values": [{}]}, "mark": {"type": "rect", "opacity": 0}, "encoding": {}},
 {"spacing": 0, "vconcat": [
  {"width": 338, "height": 1, "data": {"values": [{}]}, "mark": {"type": "rect", "color": "#c8c8c8"}, "encoding": {}},
  {"spacing": 0, "hconcat": [
   {"width": 1, "height": 188, "data": {"values": [{}]}, "mark": {"type": "rect", "color": "#c8c8c8"}, "encoding": {}},
   {"spacing": 0, "vconcat": [
    {"width": 336, "height": 2, "data": {"values": [{}]}, "mark": {"type": "rect", "opacity": 0}, "encoding": {}},
    {"columns": 7, "align": "each", "bounds": "flush", "spacing": {"row": 6, "column": 3}, "concat": [
     {"width": 44, "height": 1, "data": {"values": [{}]}, "mark": {"type": "rect", "opacity": 0}, "encoding": {}},
     {"width": 107, "height": 20, "data": {"name": "tm"}, "transform": [{"filter": "datum.p==5"}], "mark": {"type": "area", "interpolate": "monotone", "fill": "#1f77b4", "fillOpacity": 0.3, "stroke": "#3a7fbf", "strokeWidth": 1},
      "encoding": {"x": {"field": "v", "type": "quantitative", "scale": {"domain": [-3.6, 21.9], "nice": false, "zero": false}, "axis": {"values": [0, 20], "labels": false, "ticks": false, "title": null, "grid": true}},
                   "y": {"field": "d", "type": "quantitative", "scale": {"domain": [0, 1.15], "nice": false}, "axis": {"values": [0.55], "labels": false, "ticks": false, "domain": false, "title": null, "grid": true}}}},
     {"width": 18, "height": 1, "data": {"values": [{}]}, "mark": {"type": "rect", "opacity": 0}, "encoding": {}},
     {"width": 24, "height": 1, "data": {"values": [{}]}, "mark": {"type": "rect", "opacity": 0}, "encoding": {}},
     {"width": 110, "height": 20, "data": {"name": "tm"}, "transform": [{"filter": "datum.p==6"}], "mark": {"type": "area", "interpolate": "monotone", "fill": "#1f77b4", "fillOpacity": 0.3, "stroke": "#3a7fbf", "strokeWidth": 1},
      "encoding": {"x": {"field": "v", "type": "quantitative", "scale": {"domain": [-0.2, 19.1], "nice": false, "zero": false}, "axis": {"values": [0, 18], "labels": false, "ticks": false, "title": null, "grid": true}},
                   "y": {"field": "d", "type": "quantitative", "scale": {"domain": [0, 1.15], "nice": false}, "axis": {"values": [0.55], "labels": false, "ticks": false, "domain": false, "title": null, "grid": true}}}},
     {"width": 14, "height": 1, "data": {"values": [{}]}, "mark": {"type": "rect", "opacity": 0}, "encoding": {}},
     {"width": 1, "height": 1, "data": {"values": [{}]}, "mark": {"type": "rect", "opacity": 0}, "encoding": {}},
     {"width": 44, "height": 1, "data": {"values": [{}]}, "mark": {"type": "rect", "opacity": 0}, "encoding": {}},
     {"width": 107, "height": 102,
      "encoding": {"x": {"field": "x", "type": "quantitative", "scale": {"domain": [-3.6, 21.9], "nice": false, "zero": false}, "axis": {"values": [0, 10, 20], "title": ["Gap [m]", "Manual", "(sim)"]}},
                   "y": {"field": "y", "type": "quantitative", "scale": {"domain": [-173, 666], "nice": false, "zero": false}, "axis": {"values": [0, 200, 400, 600], "title": "Travel time [s]"}}},
      "layer": [
       {"data": {"name": "pts"}, "transform": [{"filter": "datum.p==5"}], "mark": {"type": "circle", "size": 70, "color": "#1f77b4", "opacity": 0.85}},
       {"data": {"name": "reg"}, "transform": [{"filter": "datum.p==5"}], "mark": {"type": "line", "color": "#ee1111", "strokeWidth": 2}}]},
     {"width": 18, "height": 102, "data": {"name": "rm"}, "transform": [{"filter": "datum.p==5"}], "mark": {"type": "area", "orient": "horizontal", "interpolate": "monotone", "fill": "#1f77b4", "fillOpacity": 0.3, "stroke": "#3a7fbf", "strokeWidth": 1},
      "encoding": {"y": {"field": "v", "type": "quantitative", "scale": {"domain": [-173, 666], "nice": false, "zero": false}, "axis": {"values": [0, 200, 400, 600], "labels": false, "title": null, "grid": true}},
                   "x": {"field": "d", "type": "quantitative", "scale": {"domain": [0, 1.1], "nice": false}, "axis": {"values": [0.95], "labels": false, "ticks": false, "domain": false, "title": null, "grid": true}}}},
     {"width": 24, "height": 1, "data": {"values": [{}]}, "mark": {"type": "rect", "opacity": 0}, "encoding": {}},
     {"width": 110, "height": 102,
      "encoding": {"x": {"field": "x", "type": "quantitative", "scale": {"domain": [-0.2, 19.1], "nice": false, "zero": false}, "axis": {"values": [0, 10], "title": ["Gap [m]", "Manual", "(exp)"]}},
                   "y": {"field": "y", "type": "quantitative", "scale": {"domain": [-166, 639], "nice": false, "zero": false}, "axis": {"values": [0, 200, 400, 600], "title": null}}},
      "layer": [
       {"data": {"name": "pts"}, "transform": [{"filter": "datum.p==6"}], "mark": {"type": "circle", "size": 70, "color": "#1f77b4", "opacity": 0.85}},
       {"data": {"name": "reg"}, "transform": [{"filter": "datum.p==6"}], "mark": {"type": "line", "color": "#ee1111", "strokeWidth": 2}}]},
     {"width": 14, "height": 102, "data": {"name": "rm"}, "transform": [{"filter": "datum.p==6"}], "mark": {"type": "area", "orient": "horizontal", "interpolate": "monotone", "fill": "#1f77b4", "fillOpacity": 0.3, "stroke": "#3a7fbf", "strokeWidth": 1},
      "encoding": {"y": {"field": "v", "type": "quantitative", "scale": {"domain": [-166, 639], "nice": false, "zero": false}, "axis": {"values": [0, 200, 400, 600], "labels": false, "title": null, "grid": true}},
                   "x": {"field": "d", "type": "quantitative", "scale": {"domain": [0, 1.1], "nice": false}, "axis": {"values": [0.95], "labels": false, "ticks": false, "domain": false, "title": null, "grid": true}}}},
     {"width": 1, "height": 1, "data": {"values": [{}]}, "mark": {"type": "rect", "opacity": 0}, "encoding": {}}
    ]}
   ]},
   {"width": 1, "height": 188, "data": {"values": [{}]}, "mark": {"type": "rect", "color": "#c8c8c8"}, "encoding": {}}
  ]},
  {"width": 338, "height": 1, "data": {"values": [{}]}, "mark": {"type": "rect", "color": "#c8c8c8"}, "encoding": {}}
 ]}
]},
{"width": 1020, "height": 35, "data": {"values": [{"t": "(a)"}]}, "mark": {"type": "text", "fontSize": 14, "font": "DejaVu Sans", "color": "#222222", "dy": 1}, "encoding": {"text": {"field": "t"}}},
{"spacing": 0, "hconcat": [
 {"spacing": 0, "vconcat": [
  {"width": 337, "height": 1, "data": {"values": [{}]}, "mark": {"type": "rect", "color": "#c8c8c8"}, "encoding": {}},
  {"spacing": 0, "hconcat": [
   {"width": 1, "height": 190, "data": {"values": [{}]}, "mark": {"type": "rect", "color": "#c8c8c8"}, "encoding": {}},
   {"spacing": 0, "vconcat": [
    {"width": 335, "height": 11, "data": {"values": [{}]}, "mark": {"type": "rect", "opacity": 0}, "encoding": {}},
    {"columns": 7, "align": "each", "bounds": "flush", "spacing": {"row": 3, "column": 3}, "concat": [
     {"width": 43, "height": 1, "data": {"values": [{}]}, "mark": {"type": "rect", "opacity": 0}, "encoding": {}},
     {"width": 102, "height": 17, "data": {"name": "tm"}, "transform": [{"filter": "datum.p==7"}], "mark": {"type": "area", "interpolate": "monotone", "fill": "#1f77b4", "fillOpacity": 0.3, "stroke": "#3a7fbf", "strokeWidth": 1},
      "encoding": {"x": {"field": "v", "type": "quantitative", "scale": {"domain": [-7.0, 21.7], "nice": false, "zero": false}, "axis": {"values": [-6.5, 13.6], "labels": false, "ticks": false, "title": null, "grid": true}},
                   "y": {"field": "d", "type": "quantitative", "scale": {"domain": [0, 1.15], "nice": false}, "axis": {"values": [0.55], "labels": false, "ticks": false, "domain": false, "title": null, "grid": true}}}},
     {"width": 15, "height": 1, "data": {"values": [{}]}, "mark": {"type": "rect", "opacity": 0}, "encoding": {}},
     {"width": 31, "height": 1, "data": {"values": [{}]}, "mark": {"type": "rect", "opacity": 0}, "encoding": {}},
     {"width": 97, "height": 17, "data": {"name": "tm"}, "transform": [{"filter": "datum.p==8"}], "mark": {"type": "area", "interpolate": "monotone", "fill": "#1f77b4", "fillOpacity": 0.3, "stroke": "#3a7fbf", "strokeWidth": 1},
      "encoding": {"x": {"field": "v", "type": "quantitative", "scale": {"domain": [-7.9, 22.7], "nice": false, "zero": false}, "axis": {"values": [-5, 14], "labels": false, "ticks": false, "title": null, "grid": true}},
                   "y": {"field": "d", "type": "quantitative", "scale": {"domain": [0, 1.15], "nice": false}, "axis": {"values": [0.55], "labels": false, "ticks": false, "domain": false, "title": null, "grid": true}}}},
     {"width": 16, "height": 1, "data": {"values": [{}]}, "mark": {"type": "rect", "opacity": 0}, "encoding": {}},
     {"width": 13, "height": 1, "data": {"values": [{}]}, "mark": {"type": "rect", "opacity": 0}, "encoding": {}},
     {"width": 43, "height": 1, "data": {"values": [{}]}, "mark": {"type": "rect", "opacity": 0}, "encoding": {}},
     {"width": 102, "height": 98,
      "encoding": {"x": {"field": "x", "type": "quantitative", "scale": {"domain": [-7.0, 21.7], "nice": false, "zero": false}, "axis": {"values": [0, 10, 20], "titleFontSize": 11.5, "title": ["Speed [m/s]", "Dynamic-flexible platooning", "(sim)"]}},
                   "y": {"field": "y", "type": "quantitative", "scale": {"domain": [-175, 510], "nice": false, "zero": false}, "axis": {"values": [0, 135, 270, 405], "labelFontSize": 11.5, "title": "Travel time [s]"}}},
      "layer": [
       {"data": {"name": "pts"}, "transform": [{"filter": "datum.p==7"}], "mark": {"type": "circle", "size": 70, "color": "#1f77b4", "opacity": 0.85}},
       {"data": {"name": "reg"}, "transform": [{"filter": "datum.p==7"}], "mark": {"type": "line", "color": "#ee1111", "strokeWidth": 2}}]},
     {"width": 15, "height": 98, "data": {"name": "rm"}, "transform": [{"filter": "datum.p==7"}], "mark": {"type": "area", "orient": "horizontal", "interpolate": "monotone", "fill": "#1f77b4", "fillOpacity": 0.3, "stroke": "#3a7fbf", "strokeWidth": 1},
      "encoding": {"y": {"field": "v", "type": "quantitative", "scale": {"domain": [-175, 510], "nice": false, "zero": false}, "axis": {"values": [0, 135, 270, 405], "labels": false, "title": null, "grid": true}},
                   "x": {"field": "d", "type": "quantitative", "scale": {"domain": [0, 1.1], "nice": false}, "axis": {"values": [0.95], "labels": false, "ticks": false, "domain": false, "title": null, "grid": true}}}},
     {"width": 31, "height": 1, "data": {"values": [{}]}, "mark": {"type": "rect", "opacity": 0}, "encoding": {}},
     {"width": 97, "height": 98,
      "encoding": {"x": {"field": "x", "type": "quantitative", "scale": {"domain": [-7.9, 22.7], "nice": false, "zero": false}, "axis": {"values": [0, 10, 20], "titleFontSize": 11.5, "title": ["Speed [m/s]", "Dynamic-flexible platooning", "(exp)"]}},
                   "y": {"field": "y", "type": "quantitative", "scale": {"domain": [-185, 512], "nice": false, "zero": false}, "axis": {"values": [0, 135, 270, 405], "labelFontSize": 11.5, "title": null}}},
      "layer": [
       {"data": {"name": "pts"}, "transform": [{"filter": "datum.p==8"}], "mark": {"type": "circle", "size": 70, "color": "#1f77b4", "opacity": 0.85}},
       {"data": {"name": "reg"}, "transform": [{"filter": "datum.p==8"}], "mark": {"type": "line", "color": "#ee1111", "strokeWidth": 2}}]},
     {"width": 16, "height": 98, "data": {"name": "rm"}, "transform": [{"filter": "datum.p==8"}], "mark": {"type": "area", "orient": "horizontal", "interpolate": "monotone", "fill": "#1f77b4", "fillOpacity": 0.3, "stroke": "#3a7fbf", "strokeWidth": 1},
      "encoding": {"y": {"field": "v", "type": "quantitative", "scale": {"domain": [-185, 512], "nice": false, "zero": false}, "axis": {"values": [0, 135, 270, 405], "labels": false, "title": null, "grid": true}},
                   "x": {"field": "d", "type": "quantitative", "scale": {"domain": [0, 1.1], "nice": false}, "axis": {"values": [0.95], "labels": false, "ticks": false, "domain": false, "title": null, "grid": true}}}},
     {"width": 13, "height": 1, "data": {"values": [{}]}, "mark": {"type": "rect", "opacity": 0}, "encoding": {}}
    ]}
   ]},
   {"width": 1, "height": 190, "data": {"values": [{}]}, "mark": {"type": "rect", "color": "#c8c8c8"}, "encoding": {}}
  ]},
  {"width": 337, "height": 1, "data": {"values": [{}]}, "mark": {"type": "rect", "color": "#c8c8c8"}, "encoding": {}}
 ]},
 {"width": 2, "height": 1, "data": {"values": [{}]}, "mark": {"type": "rect", "opacity": 0}, "encoding": {}},
 {"spacing": 0, "vconcat": [
  {"width": 333, "height": 1, "data": {"values": [{}]}, "mark": {"type": "rect", "color": "#c8c8c8"}, "encoding": {}},
  {"spacing": 0, "hconcat": [
   {"width": 1, "height": 190, "data": {"values": [{}]}, "mark": {"type": "rect", "color": "#c8c8c8"}, "encoding": {}},
   {"spacing": 0, "vconcat": [
    {"width": 331, "height": 11, "data": {"values": [{}]}, "mark": {"type": "rect", "opacity": 0}, "encoding": {}},
    {"columns": 7, "align": "each", "bounds": "flush", "spacing": {"row": 3, "column": 3}, "concat": [
     {"width": 42, "height": 1, "data": {"values": [{}]}, "mark": {"type": "rect", "opacity": 0}, "encoding": {}},
     {"width": 105, "height": 17, "data": {"name": "tm"}, "transform": [{"filter": "datum.p==9"}], "mark": {"type": "area", "interpolate": "monotone", "fill": "#1f77b4", "fillOpacity": 0.3, "stroke": "#3a7fbf", "strokeWidth": 1},
      "encoding": {"x": {"field": "v", "type": "quantitative", "scale": {"domain": [-2.7, 2.55], "nice": false, "zero": false}, "axis": {"values": [-1.5, 1.6], "labels": false, "ticks": false, "title": null, "grid": true}},
                   "y": {"field": "d", "type": "quantitative", "scale": {"domain": [0, 1.15], "nice": false}, "axis": {"values": [0.55], "labels": false, "ticks": false, "domain": false, "title": null, "grid": true}}}},
     {"width": 16, "height": 1, "data": {"values": [{}]}, "mark": {"type": "rect", "opacity": 0}, "encoding": {}},
     {"width": 16, "height": 1, "data": {"values": [{}]}, "mark": {"type": "rect", "opacity": 0}, "encoding": {}},
     {"width": 108, "height": 17, "data": {"name": "tm"}, "transform": [{"filter": "datum.p==10"}], "mark": {"type": "area", "interpolate": "monotone", "fill": "#1f77b4", "fillOpacity": 0.3, "stroke": "#3a7fbf", "strokeWidth": 1},
      "encoding": {"x": {"field": "v", "type": "quantitative", "scale": {"domain": [-4.95, 3.36], "nice": false, "zero": false}, "axis": {"values": [-3.5, 2.5], "labels": false, "ticks": false, "title": null, "grid": true}},
                   "y": {"field": "d", "type": "quantitative", "scale": {"domain": [0, 1.15], "nice": false}, "axis": {"values": [0.55], "labels": false, "ticks": false, "domain": false, "title": null, "grid": true}}}},
     {"width": 20, "height": 1, "data": {"values": [{}]}, "mark": {"type": "rect", "opacity": 0}, "encoding": {}},
     {"width": 6, "height": 1, "data": {"values": [{}]}, "mark": {"type": "rect", "opacity": 0}, "encoding": {}},
     {"width": 42, "height": 1, "data": {"values": [{}]}, "mark": {"type": "rect", "opacity": 0}, "encoding": {}},
     {"width": 105, "height": 98,
      "encoding": {"x": {"field": "x", "type": "quantitative", "scale": {"domain": [-2.7, 2.55], "nice": false, "zero": false}, "axis": {"values": [-2, 0, 2], "titleFontSize": 11.5, "title": ["Acceleration [m/s]", "Dynamic-flexible platooning", "(sim)"]}},
                   "y": {"field": "y", "type": "quantitative", "scale": {"domain": [-135, 495], "nice": false, "zero": false}, "axis": {"values": [0, 135, 270, 405], "labelFontSize": 11.5, "title": "Travel time [s]"}}},
      "layer": [
       {"data": {"name": "pts"}, "transform": [{"filter": "datum.p==9"}], "mark": {"type": "circle", "size": 70, "color": "#1f77b4", "opacity": 0.85}},
       {"data": {"name": "reg"}, "transform": [{"filter": "datum.p==9"}], "mark": {"type": "line", "color": "#ee1111", "strokeWidth": 2}}]},
     {"width": 16, "height": 98, "data": {"name": "rm"}, "transform": [{"filter": "datum.p==9"}], "mark": {"type": "area", "orient": "horizontal", "interpolate": "monotone", "fill": "#1f77b4", "fillOpacity": 0.3, "stroke": "#3a7fbf", "strokeWidth": 1},
      "encoding": {"y": {"field": "v", "type": "quantitative", "scale": {"domain": [-135, 495], "nice": false, "zero": false}, "axis": {"values": [0, 135, 270, 405], "labels": false, "title": null, "grid": true}},
                   "x": {"field": "d", "type": "quantitative", "scale": {"domain": [0, 1.1], "nice": false}, "axis": {"values": [0.95], "labels": false, "ticks": false, "domain": false, "title": null, "grid": true}}}},
     {"width": 16, "height": 1, "data": {"values": [{}]}, "mark": {"type": "rect", "opacity": 0}, "encoding": {}},
     {"width": 108, "height": 98,
      "encoding": {"x": {"field": "x", "type": "quantitative", "scale": {"domain": [-4.95, 3.36], "nice": false, "zero": false}, "axis": {"values": [-2.5, 0, 2.5], "format": ".1f", "titleFontSize": 11.5, "title": ["Acceleration [m/s²]", "Dynamic-flexible platooning", "(exp)"]}},
                   "y": {"field": "y", "type": "quantitative", "scale": {"domain": [-133, 518], "nice": false, "zero": false}, "axis": {"values": [0, 135, 270, 405], "labelFontSize": 11.5, "title": null}}},
      "layer": [
       {"data": {"name": "pts"}, "transform": [{"filter": "datum.p==10"}], "mark": {"type": "circle", "size": 70, "color": "#1f77b4", "opacity": 0.85}},
       {"data": {"name": "reg"}, "transform": [{"filter": "datum.p==10"}], "mark": {"type": "line", "color": "#ee1111", "strokeWidth": 2}}]},
     {"width": 20, "height": 98, "data": {"name": "rm"}, "transform": [{"filter": "datum.p==10"}], "mark": {"type": "area", "orient": "horizontal", "interpolate": "monotone", "fill": "#1f77b4", "fillOpacity": 0.3, "stroke": "#3a7fbf", "strokeWidth": 1},
      "encoding": {"y": {"field": "v", "type": "quantitative", "scale": {"domain": [-133, 518], "nice": false, "zero": false}, "axis": {"values": [0, 135, 270, 405], "labels": false, "title": null, "grid": true}},
                   "x": {"field": "d", "type": "quantitative", "scale": {"domain": [0, 1.1], "nice": false}, "axis": {"values": [0.95], "labels": false, "ticks": false, "domain": false, "title": null, "grid": true}}}},
     {"width": 6, "height": 1, "data": {"values": [{}]}, "mark": {"type": "rect", "opacity": 0}, "encoding": {}}
    ]}
   ]},
   {"width": 1, "height": 190, "data": {"values": [{}]}, "mark": {"type": "rect", "color": "#c8c8c8"}, "encoding": {}}
  ]},
  {"width": 333, "height": 1, "data": {"values": [{}]}, "mark": {"type": "rect", "color": "#c8c8c8"}, "encoding": {}}
 ]},
 {"width": 11, "height": 1, "data": {"values": [{}]}, "mark": {"type": "rect", "opacity": 0}, "encoding": {}},
 {"spacing": 0, "vconcat": [
  {"width": 338, "height": 1, "data": {"values": [{}]}, "mark": {"type": "rect", "color": "#c8c8c8"}, "encoding": {}},
  {"spacing": 0, "hconcat": [
   {"width": 1, "height": 190, "data": {"values": [{}]}, "mark": {"type": "rect", "color": "#c8c8c8"}, "encoding": {}},
   {"spacing": 0, "vconcat": [
    {"width": 336, "height": 11, "data": {"values": [{}]}, "mark": {"type": "rect", "opacity": 0}, "encoding": {}},
    {"columns": 7, "align": "each", "bounds": "flush", "spacing": {"row": 3, "column": 3}, "concat": [
     {"width": 39, "height": 1, "data": {"values": [{}]}, "mark": {"type": "rect", "opacity": 0}, "encoding": {}},
     {"width": 104, "height": 17, "data": {"name": "tm"}, "transform": [{"filter": "datum.p==11"}], "mark": {"type": "area", "interpolate": "monotone", "fill": "#1f77b4", "fillOpacity": 0.3, "stroke": "#3a7fbf", "strokeWidth": 1},
      "encoding": {"x": {"field": "v", "type": "quantitative", "scale": {"domain": [1.6, 21], "nice": false, "zero": false}, "axis": {"values": [10, 20], "labels": false, "ticks": false, "title": null, "grid": true}},
                   "y": {"field": "d", "type": "quantitative", "scale": {"domain": [0, 1.15], "nice": false}, "axis": {"values": [0.55], "labels": false, "ticks": false, "domain": false, "title": null, "grid": true}}}},
     {"width": 16, "height": 1, "data": {"values": [{}]}, "mark": {"type": "rect", "opacity": 0}, "encoding": {}},
     {"width": 29, "height": 1, "data": {"values": [{}]}, "mark": {"type": "rect", "opacity": 0}, "encoding": {}},
     {"width": 100, "height": 17, "data": {"name": "tm"}, "transform": [{"filter": "datum.p==12"}], "mark": {"type": "area", "interpolate": "monotone", "fill": "#1f77b4", "fillOpacity": 0.3, "stroke": "#3a7fbf", "strokeWidth": 1},
      "encoding": {"x": {"field": "v", "type": "quantitative", "scale": {"domain": [3.1, 20.3], "nice": false, "zero": false}, "axis": {"values": [5, 12.5], "labels": false, "ticks": false, "title": null, "grid": true}},
                   "y": {"field": "d", "type": "quantitative", "scale": {"domain": [0, 1.15], "nice": false}, "axis": {"values": [0.55], "labels": false, "ticks": false, "domain": false, "title": null, "grid": true}}}},
     {"width": 17, "height": 1, "data": {"values": [{}]}, "mark": {"type": "rect", "opacity": 0}, "encoding": {}},
     {"width": 13, "height": 1, "data": {"values": [{}]}, "mark": {"type": "rect", "opacity": 0}, "encoding": {}},
     {"width": 39, "height": 1, "data": {"values": [{}]}, "mark": {"type": "rect", "opacity": 0}, "encoding": {}},
     {"width": 104, "height": 98,
      "encoding": {"x": {"field": "x", "type": "quantitative", "scale": {"domain": [1.6, 21], "nice": false, "zero": false}, "axis": {"values": [10, 20], "titleFontSize": 11.5, "title": ["Gap [m]", "Dynamic-flexible platooning", "(sim)"]}},
                   "y": {"field": "y", "type": "quantitative", "scale": {"domain": [-139, 511], "nice": false, "zero": false}, "axis": {"values": [0, 135, 270, 405], "labelFontSize": 11.5, "title": "Travel time [s]"}}},
      "layer": [
       {"data": {"name": "pts"}, "transform": [{"filter": "datum.p==11"}], "mark": {"type": "circle", "size": 70, "color": "#1f77b4", "opacity": 0.85}},
       {"data": {"name": "reg"}, "transform": [{"filter": "datum.p==11"}], "mark": {"type": "line", "color": "#ee1111", "strokeWidth": 2}}]},
     {"width": 16, "height": 98, "data": {"name": "rm"}, "transform": [{"filter": "datum.p==11"}], "mark": {"type": "area", "orient": "horizontal", "interpolate": "monotone", "fill": "#1f77b4", "fillOpacity": 0.3, "stroke": "#3a7fbf", "strokeWidth": 1},
      "encoding": {"y": {"field": "v", "type": "quantitative", "scale": {"domain": [-139, 511], "nice": false, "zero": false}, "axis": {"values": [0, 135, 270, 405], "labels": false, "title": null, "grid": true}},
                   "x": {"field": "d", "type": "quantitative", "scale": {"domain": [0, 1.1], "nice": false}, "axis": {"values": [0.95], "labels": false, "ticks": false, "domain": false, "title": null, "grid": true}}}},
     {"width": 29, "height": 1, "data": {"values": [{}]}, "mark": {"type": "rect", "opacity": 0}, "encoding": {}},
     {"width": 100, "height": 98,
      "encoding": {"x": {"field": "x", "type": "quantitative", "scale": {"domain": [3.1, 20.3], "nice": false, "zero": false}, "axis": {"values": [10, 20], "titleFontSize": 11.5, "title": ["Gap [m]", "Dynamic-flexible platooning", "(exp)"]}},
                   "y": {"field": "y", "type": "quantitative", "scale": {"domain": [-133, 518], "nice": false, "zero": false}, "axis": {"values": [0, 135, 270, 405], "labelFontSize": 11.5, "title": null}}},
      "layer": [
       {"data": {"name": "pts"}, "transform": [{"filter": "datum.p==12"}], "mark": {"type": "circle", "size": 70, "color": "#1f77b4", "opacity": 0.85}},
       {"data": {"name": "reg"}, "transform": [{"filter": "datum.p==12"}], "mark": {"type": "line", "color": "#ee1111", "strokeWidth": 2}}]},
     {"width": 17, "height": 98, "data": {"name": "rm"}, "transform": [{"filter": "datum.p==12"}], "mark": {"type": "area", "orient": "horizontal", "interpolate": "monotone", "fill": "#1f77b4", "fillOpacity": 0.3, "stroke": "#3a7fbf", "strokeWidth": 1},
      "encoding": {"y": {"field": "v", "type": "quantitative", "scale": {"domain": [-133, 518], "nice": false, "zero": false}, "axis": {"values": [0, 135, 270, 405], "labels": false, "title": null, "grid": true}},
                   "x": {"field": "d", "type": "quantitative", "scale": {"domain": [0, 1.1], "nice": false}, "axis": {"values": [0.95], "labels": false, "ticks": false, "domain": false, "title": null, "grid": true}}}},
     {"width": 13, "height": 1, "data": {"values": [{}]}, "mark": {"type": "rect", "opacity": 0}, "encoding": {}}
    ]}
   ]},
   {"width": 1, "height": 190, "data": {"values": [{}]}, "mark": {"type": "rect", "color": "#c8c8c8"}, "encoding": {}}
  ]},
  {"width": 338, "height": 1, "data": {"values": [{}]}, "mark": {"type": "rect", "color": "#c8c8c8"}, "encoding": {}}
 ]}
]},
{"width": 1020, "height": 21, "data": {"values": [{"t": "(b)"}]}, "mark": {"type": "text", "fontSize": 14, "font": "DejaVu Sans", "color": "#222222", "dy": 2}, "encoding": {"text": {"field": "t"}}}
]
}
